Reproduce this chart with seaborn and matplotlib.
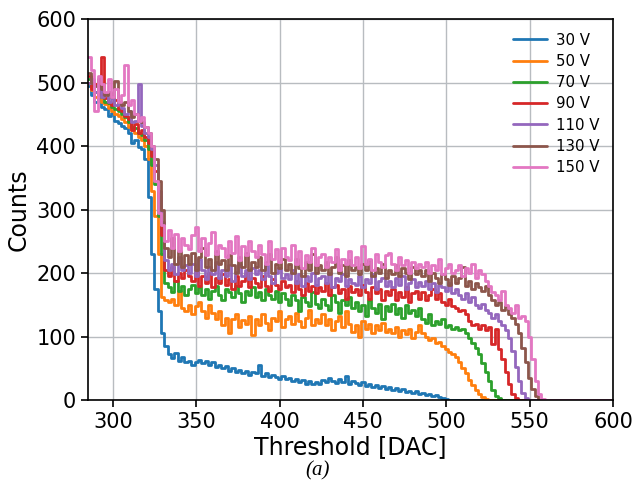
import numpy as np
import pandas as pd
import matplotlib
matplotlib.use("Agg")
import matplotlib.pyplot as plt
import seaborn as sns

# threshold scan, 2 DAC bins from 285 to 599
thresholds = np.arange(285, 600, 2)

labels = ["30 V", "50 V", "70 V", "90 V", "110 V", "130 V", "150 V"]
colors = ["#1f77b4", "#ff7f0e", "#2ca02c", "#d62728", "#9467bd", "#8c564b", "#e377c2"]

counts_30 = [
    495, 480, 470, 475, 462, 458, 448, 452, 440, 436,
    432, 428, 420, 405, 410, 398, 395, 380, 320, 230,
    175, 140, 105, 85, 72, 66, 75, 62, 68, 60,
    62, 56, 60, 64, 58, 62, 55, 60, 52, 56,
    50, 54, 46, 50, 44, 48, 42, 46, 40, 44,
    42, 55, 38, 42, 36, 40, 37, 34, 38, 33,
    35, 30, 33, 28, 32, 26, 30, 25, 29, 26,
    32, 28, 35, 30, 27, 33, 28, 38, 26, 30,
    27, 24, 29, 22, 26, 20, 24, 19, 22, 18,
    20, 16, 19, 14, 17, 13, 15, 12, 14, 10,
    11, 8, 10, 7, 8, 5, 4, 2, 1, 0,
    0, 0, 0, 0, 0, 0, 0, 0, 0, 0,
    0, 0, 0, 0, 0, 0, 0, 0, 0, 0,
    0, 0, 0, 0, 0, 0, 0, 0, 0, 0,
    0, 0, 0, 0, 0, 0, 0, 0, 0, 0,
    0, 0, 0, 0, 0, 0, 0, 0,
]
counts_50 = [
    500, 488, 478, 482, 470, 466, 460, 455, 450, 448,
    442, 438, 430, 425, 420, 415, 410, 400, 380, 330,
    290, 230, 162, 158, 155, 160, 150, 172, 145, 140,
    150, 135, 148, 155, 140, 130, 150, 138, 128, 140,
    118, 130, 105, 128, 135, 115, 126, 120, 132, 102,
    128, 118, 135, 122, 110, 130, 125, 140, 115, 128,
    132, 120, 138, 125, 115, 130, 142, 118, 128, 122,
    135, 118, 128, 110, 125, 132, 115, 140, 120, 108,
    118, 100, 125, 112, 120, 105, 118, 110, 122, 108,
    112, 105, 115, 100, 110, 104, 112, 98, 108, 118,
    105, 100, 95, 98, 90, 92, 85, 80, 76, 72,
    68, 60, 50, 42, 32, 24, 16, 10, 5, 2,
    1, 0, 0, 0, 0, 0, 0, 0, 0, 0,
    0, 0, 0, 0, 0, 0, 0, 0, 0, 0,
    0, 0, 0, 0, 0, 0, 0, 0, 0, 0,
    0, 0, 0, 0, 0, 0, 0, 0,
]
counts_70 = [
    505, 495, 485, 488, 478, 470, 468, 462, 458, 455,
    450, 445, 438, 430, 428, 420, 418, 410, 395, 370,
    340, 290, 230, 185, 178, 170, 188, 172, 180, 165,
    175, 182, 168, 178, 165, 175, 160, 172, 180, 166,
    158, 175, 170, 162, 180, 168, 155, 172, 165, 178,
    162, 170, 158, 175, 165, 160, 172, 155, 168, 160,
    150, 165, 158, 140, 162, 155, 148, 170, 152, 145,
    160, 150, 142, 165, 155, 138, 158, 150, 162, 145,
    155, 140, 150, 132, 158, 145, 138, 152, 128, 148,
    140, 152, 135, 145, 130, 150, 138, 142, 132, 145,
    128, 122, 135, 118, 125, 120, 128, 115, 118, 112,
    115, 110, 112, 105, 98, 90, 82, 72, 58, 45,
    30, 16, 7, 3, 1, 0, 0, 0, 0, 0,
    0, 0, 0, 0, 0, 0, 0, 0, 0, 0,
    0, 0, 0, 0, 0, 0, 0, 0, 0, 0,
    0, 0, 0, 0, 0, 0, 0, 0,
]
counts_90 = [
    510, 490, 498, 480, 540, 475, 470, 465, 472, 458,
    455, 448, 442, 425, 435, 420, 425, 415, 405, 385,
    360, 320, 260, 205, 195, 210, 188, 200, 192, 205,
    195, 188, 202, 180, 195, 185, 200, 178, 192, 185,
    198, 182, 190, 175, 195, 180, 188, 200, 178, 192,
    185, 178, 195, 180, 172, 190, 182, 175, 188, 178,
    182, 170, 188, 175, 165, 185, 172, 180, 168, 178,
    172, 185, 165, 178, 182, 168, 175, 160, 180, 170,
    175, 165, 182, 170, 160, 178, 168, 175, 158, 172,
    165, 175, 158, 170, 162, 178, 155, 168, 172, 160,
    170, 158, 165, 175, 160, 168, 155, 150, 160, 148,
    145, 140, 142, 135, 125, 118, 120, 112, 118, 110,
    115, 88, 112, 80, 65, 45, 25, 10, 3, 0,
    0, 0, 0, 0, 0, 0, 0, 0, 0, 0,
    0, 0, 0, 0, 0, 0, 0, 0, 0, 0,
    0, 0, 0, 0, 0, 0, 0, 0,
]
counts_110 = [
    500, 505, 485, 492, 478, 482, 470, 475, 465, 468,
    460, 450, 455, 438, 440, 498, 432, 420, 415, 395,
    370, 330, 280, 220, 205, 215, 198, 225, 205, 212,
    200, 215, 195, 222, 205, 190, 210, 198, 218, 192,
    205, 195, 212, 188, 202, 215, 195, 205, 190, 208,
    198, 205, 190, 212, 195, 185, 200, 208, 192, 198,
    190, 205, 185, 198, 180, 195, 188, 200, 182, 192,
    195, 185, 200, 178, 192, 188, 198, 180, 190, 185,
    182, 195, 178, 190, 185, 198, 175, 188, 192, 180,
    188, 178, 192, 182, 195, 175, 185, 190, 178, 186,
    180, 188, 175, 185, 170, 182, 178, 172, 185, 168,
    175, 165, 160, 168, 155, 162, 150, 145, 152, 142,
    138, 130, 135, 125, 118, 110, 98, 78, 52, 30,
    12, 3, 0, 0, 0, 0, 0, 0, 0, 0,
    0, 0, 0, 0, 0, 0, 0, 0, 0, 0,
    0, 0, 0, 0, 0, 0, 0, 0,
]
counts_130 = [
    515, 500, 495, 505, 490, 480, 485, 478, 502, 470,
    465, 470, 455, 445, 450, 440, 438, 430, 420, 400,
    380, 345, 300, 240, 225, 255, 215, 235, 210, 228,
    215, 232, 205, 225, 240, 210, 222, 205, 235, 215,
    220, 205, 228, 212, 200, 225, 210, 232, 205, 218,
    210, 225, 205, 218, 230, 200, 215, 208, 222, 205,
    215, 200, 222, 208, 195, 218, 205, 230, 200, 212,
    205, 218, 198, 210, 225, 200, 212, 195, 220, 205,
    210, 198, 215, 205, 220, 195, 208, 200, 215, 192,
    205, 198, 212, 195, 208, 200, 190, 210, 198, 205,
    195, 205, 188, 200, 192, 185, 198, 190, 182, 195,
    185, 192, 210, 180, 188, 175, 185, 178, 172, 180,
    165, 158, 150, 155, 142, 148, 135, 130, 120, 105,
    82, 60, 35, 18, 6, 1, 0, 0, 0, 0,
    0, 0, 0, 0, 0, 0, 0, 0, 0, 0,
    0, 0, 0, 0, 0, 0, 0, 0,
]
counts_150 = [
    540, 520, 455, 510, 498, 485, 505, 478, 490, 470,
    480, 528, 465, 472, 450, 440, 445, 430, 420, 400,
    345, 295, 275, 250, 268, 240, 262, 235, 255, 245,
    238, 260, 272, 235, 255, 228, 248, 265, 230, 245,
    240, 225, 250, 232, 258, 220, 242, 228, 250, 235,
    225, 245, 230, 215, 250, 222, 238, 218, 240, 225,
    220, 245, 215, 235, 208, 228, 218, 240, 212, 225,
    230, 210, 225, 218, 238, 205, 222, 215, 235, 212,
    225, 208, 242, 215, 222, 205, 230, 218, 210, 228,
    232, 215, 205, 225, 212, 220, 200, 218, 208, 215,
    210, 218, 200, 212, 205, 222, 198, 208, 215, 200,
    205, 212, 195, 208, 200, 215, 192, 205, 198, 188,
    180, 170, 165, 158, 172, 150, 145, 138, 150, 130,
    132, 125, 100, 65, 30, 10, 2, 0, 0, 0,
    0, 0, 0, 0, 0, 0, 0, 0, 0, 0,
    0, 0, 0, 0, 0, 0, 0, 0,
]

series = [counts_30, counts_50, counts_70, counts_90, counts_110, counts_130, counts_150]

frames = []
for lab, c in zip(labels, series):
    frames.append(pd.DataFrame({"threshold": thresholds, "counts": c, "bias": lab}))
df = pd.concat(frames, ignore_index=True)

sns.set_theme(style="ticks")
plt.rcParams["font.family"] = ["DejaVu Sans"]
plt.rcParams["text.color"] = "black"
plt.rcParams["axes.labelcolor"] = "black"
plt.rcParams["xtick.color"] = "black"
plt.rcParams["ytick.color"] = "black"

fig = plt.figure(figsize=(6.36, 4.88), dpi=100)
ax = fig.add_axes([0.138, 0.180, 0.826, 0.781])

sns.lineplot(data=df, x="threshold", y="counts", hue="bias", hue_order=labels,
             palette=colors, estimator=None, drawstyle="steps-post",
             linewidth=2.0, ax=ax)

ax.set_xlim(285, 600)
ax.set_ylim(0, 600)
ax.set_xticks([300, 350, 400, 450, 500, 550, 600])
ax.set_yticks([0, 100, 200, 300, 400, 500, 600])
ax.grid(True, color="#b8bcc0", linewidth=1)
ax.set_axisbelow(True)
for s in ax.spines.values():
    s.set_color("black")
    s.set_linewidth(1.2)
ax.tick_params(labelsize=15, length=5, width=1.2, colors="black")
ax.set_xlabel("Threshold [DAC]", fontsize=17, labelpad=2)
ax.set_ylabel("Counts", fontsize=17)

handles, labs = ax.get_legend_handles_labels()
ax.legend(handles, labs, loc="upper right", frameon=False, fontsize=10.8,
          handlelength=2.3, handletextpad=0.6, labelspacing=0.42)

fig.text(0.5, 0.025, "(a)", ha="center", fontsize=15, style="italic",
         family="Liberation Serif")

fig.savefig("out.png", dpi=100)
